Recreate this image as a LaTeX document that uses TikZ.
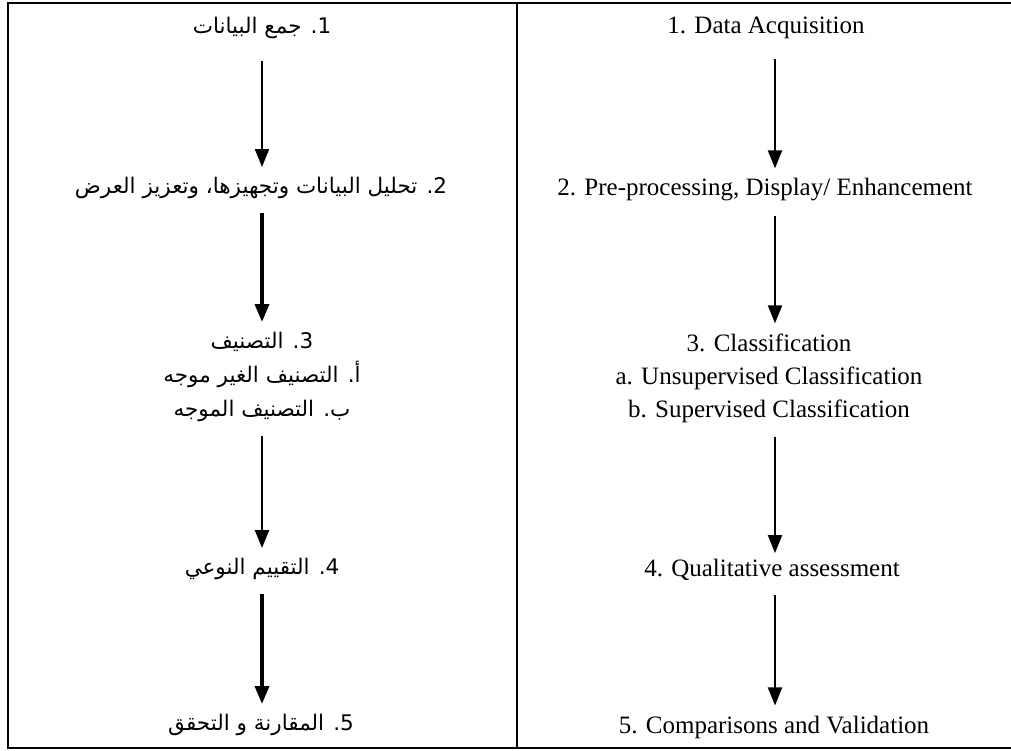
\documentclass[tikz,border=0pt]{standalone}
\usepackage{fontspec}
\setmainfont{Liberation Serif}
\newfontfamily\arabicfont[Script=Arabic]{DejaVu Sans}
\TeXXeTstate=1
\usetikzlibrary{positioning,calc,arrows,arrows.meta}
\tikzset{font=\fontsize{25}{33}\selectfont}

\begin{document}
\begin{tikzpicture}[x=1pt, y=-1pt]
	\useasboundingbox (0,0) rectangle (1011,751);
	\draw[line width=2pt] (1011,3) -- (8,3) -- (8,748) -- (1011,748);
	\draw[line width=2pt] (517,3) -- (517,748);
	\begin{scope}
		\tikzstyle{every node}=[align=center, inner sep=0pt]
		\tikzstyle{step arrow}=[-{Triangle[width=14pt,length=18pt]}, line width=2pt, shorten <=14pt, shorten >=10pt]
		\tikzstyle{ar}=[font=\arabicfont\fontsize{21.5}{34}\selectfont]
		\coordinate (ecol) at (775, 0);
		\coordinate (acol) at (262, 0);
		% english column
		\node (e1) at (766, 28) {1. Data Acquisition};
		\node (e2) at (765, 190) {2. Pre-processing, Display/ Enhancement};
		\node (e3) at (769, 378) {3. Classification\\a. Unsupervised Classification\\b. Supervised Classification};
		\node (e4) at (772, 570) {4. Qualitative assessment};
		\node (e5) at (774, 727) {5. Comparisons and Validation};

		\draw[step arrow, shorten <=20pt] (ecol |- e1.south) -- (ecol |- e2.north);
		\draw[step arrow] (ecol |- e2.south) -- (ecol |- e3.north);
		\draw[step arrow, shorten >=6pt] (ecol |- e3.south) -- (ecol |- e4.north);
		\draw[step arrow] (ecol |- e4.south) -- (ecol |- e5.north);

		% arabic column
		\node[ar] (a1) at (262, 28) {\beginR 1. جمع البيانات\endR};
		\node[ar] (a2) at (261, 188) {\beginR 2. تحليل البيانات وتجهيزها، وتعزيز العرض\endR};
		\node[ar] (a3) at (262, 377) {\beginR 3. التصنيف\endR\\\beginR أ. التصنيف الغير موجه\endR\\\beginR ب. التصنيف الموجه\endR};
		\node[ar] (a4) at (262, 569) {\beginR 4. التقييم النوعي\endR};
		\node[ar] (a5) at (261, 725) {\beginR 5. المقارنة و التحقق\endR};

		\draw[step arrow, shorten <=22pt] (acol |- a1.south) -- (acol |- a2.north);
		\draw[step arrow, line width=3.5pt] (acol |- a2.south) -- (acol |- a3.north);
		\draw[step arrow, line width=2.5pt] (acol |- a3.south) -- (acol |- a4.north);
		\draw[step arrow, line width=3.5pt] (acol |- a4.south) -- (acol |- a5.north);
	\end{scope}
\end{tikzpicture}
\end{document}
